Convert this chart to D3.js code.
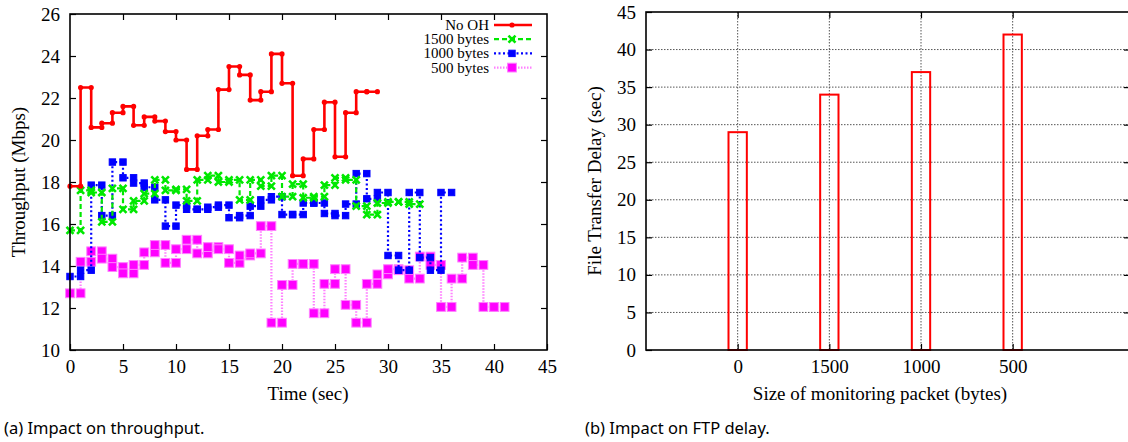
<!DOCTYPE html>
<meta charset="utf-8">
<style>
  body { margin: 0; background: #fff; }
  text { font-family: "Liberation Serif", serif; fill: #000; }
  .cap { font-family: "Noto Sans", sans-serif; font-size: 16.5px; }
</style>
<script src="https://d3js.org/d3.v7.min.js"></script>
<body>
<svg id="fig" width="1128" height="442"></svg>
<script>
// ---- data (a): throughput per second, value holds from t to t+1
var noOH = [17.8, 22.5, 20.6, 20.8, 21.3, 21.6, 20.7, 21.1, 20.9, 20.4,
            20.0, 18.6, 20.2, 20.5, 22.4, 23.5, 23.1, 21.9, 22.3, 24.1,
            22.7, 18.3, 19.1, 20.5, 21.8, 19.2, 21.3, 22.3, 22.3];
var b1500 = [15.7, 17.6, 17.5, 16.1, 17.7, 16.7, 17.1, 17.45, 18.1, 17.6,
             17.65, 17.1, 18.1, 18.3, 18.0, 18.1, 17.15, 18.1, 17.8, 18.3,
             17.3, 17.9, 17.25, 17.3, 17.85, 18.2, 18.1, 16.85, 16.45, 17.0,
             17.05, 17.05, 16.95];
var b1000 = [13.5, 13.8, 17.85, 16.4, 18.95, 18.2, 17.95, 17.75, 17.15, 15.9,
             16.9, 16.7, 16.7, 16.8, 16.9, 16.3, 16.4, 16.85, 17.15, 17.3,
             16.45, 16.45, 17.0, 17.0, 16.5, 16.4, 16.95, 18.4, 17.2, 17.5,
             14.5, 13.8, 17.5, 14.4, 13.8, 17.5];
var b500 = [12.7, 14.2, 14.7, 14.35, 13.95, 13.65, 14.05, 14.65, 15.0, 14.15,
            14.8, 15.25, 14.6, 14.9, 14.8, 14.15, 14.5, 14.6, 15.9, 11.3,
            13.1, 14.1, 14.1, 11.75, 13.15, 13.85, 12.15, 11.3, 13.15, 13.6,
            13.85, 13.8, 13.4, 14.45, 14.05, 12.05, 13.4, 14.4, 14.05, 12.05, 12.05];
var seriesNames = ["No OH", "1500 bytes", "1000 bytes", "500 bytes"];
var xTicksA = d3.range(0, 46, 5);
var yTicksA = d3.range(10, 27, 2);

// ---- data (b): file transfer delay
var packetSizes = ["0", "1500", "1000", "500"];
var delays = [29, 34, 37, 42];
var yTicksB = d3.range(0, 46, 5);

var svg = d3.select("#fig");

function frame(g, x, y) {
  var r = x.range(), t = y.range();
  g.append("rect").attr("x", r[0]).attr("y", t[1])
    .attr("width", r[1] - r[0]).attr("height", t[0] - t[1])
    .attr("fill", "none").attr("stroke", "#000").attr("stroke-width", 1.6);
}

// ================= panel (a)
var xA = d3.scaleLinear().domain([0, 45]).range([70, 547]);
var yA = d3.scaleLinear().domain([10, 26]).range([350, 14]);
var ga = svg.append("g");

// inward ticks on all four sides
ga.append("g").attr("transform", "translate(0,350)")
  .call(d3.axisBottom(xA).tickValues(xTicksA).tickSize(-6).tickPadding(10))
  .call(function(a) { a.select(".domain").remove(); a.selectAll("text").attr("font-size", 19).style("font-family", "Liberation Serif"); });
ga.append("g").attr("transform", "translate(0,14)")
  .call(d3.axisTop(xA).tickValues(xTicksA.slice(1, -1)).tickSize(-6).tickFormat(""))
  .call(function(a) { a.select(".domain").remove(); });
ga.append("g").attr("transform", "translate(70,0)")
  .call(d3.axisLeft(yA).tickValues(yTicksA).tickSize(-6).tickPadding(10))
  .call(function(a) { a.select(".domain").remove(); a.selectAll("text").attr("font-size", 19).style("font-family", "Liberation Serif"); });
ga.append("g").attr("transform", "translate(547,0)")
  .call(d3.axisRight(yA).tickValues(yTicksA.slice(1, -1)).tickSize(-6).tickFormat(""))
  .call(function(a) { a.select(".domain").remove(); });
ga.selectAll(".tick line").attr("stroke", "#000").attr("stroke-width", 1.2);

var styles = [
  { data: noOH,  color: "#ff0000", width: 2.6, dash: null,  mark: "circle", size: 2.6 },
  { data: b1500, color: "#00e800", width: 2.2, dash: "5,3", mark: "cross",  size: 3.5 },
  { data: b1000, color: "#0000ff", width: 2.2, dash: "2,2.5", mark: "square", size: 3.2 },
  { data: b500,  color: "#ff00ff", width: 2.2, dash: "1.5,1.5", mark: "square", size: 4.4, line: "#ff80ff" }
];

var line = d3.line().x(function(d) { return xA(d[0]); }).y(function(d) { return yA(d[1]); })
  .curve(d3.curveStepAfter);

function marker(g, s, px, py) {
  if (s.mark === "circle") {
    g.append("circle").attr("cx", px).attr("cy", py).attr("r", s.size).attr("fill", s.color);
  } else if (s.mark === "square") {
    g.append("rect").attr("x", px - s.size).attr("y", py - s.size)
      .attr("width", 2 * s.size).attr("height", 2 * s.size).attr("fill", s.color)
      .attr("stroke", s.line || s.color).attr("stroke-width", 1);
  } else {
    var k = s.size;
    g.append("path").attr("d", "M" + (px - k) + "," + (py - k) + "L" + (px + k) + "," + (py + k) +
      "M" + (px - k) + "," + (py + k) + "L" + (px + k) + "," + (py - k))
      .attr("stroke", s.color).attr("stroke-width", 2.6);
    g.append("circle").attr("cx", px).attr("cy", py).attr("r", 1.6).attr("fill", s.color);
  }
}

// draw bottom series first so No OH stays on top
styles.slice().reverse().forEach(function(s) {
  var pts = s.data.map(function(v, i) { return [i, v]; });
  pts.push([s.data.length, s.data[s.data.length - 1]]);
  var g = ga.append("g");
  g.append("path").attr("d", line(pts)).attr("fill", "none")
    .attr("stroke", s.line || s.color).attr("stroke-width", s.width)
    .attr("stroke-dasharray", s.dash);
  s.data.forEach(function(v, i) {
    marker(g, s, xA(i), yA(v));
    marker(g, s, xA(i + 1), yA(v));
  });
});

frame(ga, xA, yA);

// legend
var lg = ga.append("g");
styles.forEach(function(s, i) {
  var cy = 25 + i * 14.2;
  lg.append("text").attr("x", 489).attr("y", cy + 5).attr("text-anchor", "end")
    .attr("font-size", 15).text(seriesNames[i]);
  lg.append("line").attr("x1", 494).attr("x2", 532).attr("y1", cy).attr("y2", cy)
    .attr("stroke", s.line || s.color).attr("stroke-width", s.width).attr("stroke-dasharray", s.dash);
  marker(lg, s, 512, cy);
});

ga.append("text").attr("transform", "translate(25,182) rotate(-90)").attr("text-anchor", "middle")
  .attr("font-size", 19).text("Throughput (Mbps)");
ga.append("text").attr("x", 308).attr("y", 400).attr("text-anchor", "middle")
  .attr("font-size", 19).text("Time (sec)");
ga.append("text").attr("class", "cap").attr("x", 4).attr("y", 434).text("(a) Impact on throughput.");

// ================= panel (b)
var xB = d3.scaleLinear().domain([-1, 4.28]).range([646, 1130]);
var yB = d3.scaleLinear().domain([0, 45]).range([350, 12]);
var gb = svg.append("g");
var idx = d3.range(packetSizes.length);

// dotted grid
gb.selectAll(".hg").data(yTicksB.slice(1, -1)).enter().append("line")
  .attr("x1", 646).attr("x2", 1130).attr("y1", function(d) { return yB(d); }).attr("y2", function(d) { return yB(d); })
  .attr("stroke", "#555").attr("stroke-width", 1).attr("stroke-dasharray", "1.5,1.5");
gb.selectAll(".vg").data(idx).enter().append("line")
  .attr("y1", 12).attr("y2", 350).attr("x1", function(d) { return xB(d); }).attr("x2", function(d) { return xB(d); })
  .attr("stroke", "#555").attr("stroke-width", 1).attr("stroke-dasharray", "1.5,1.5");

gb.append("g").attr("transform", "translate(0,350)")
  .call(d3.axisBottom(xB).tickValues(idx).tickSize(-6).tickPadding(10)
    .tickFormat(function(d) { return packetSizes[d]; }))
  .call(function(a) { a.select(".domain").remove(); a.selectAll("text").attr("font-size", 19).style("font-family", "Liberation Serif"); });
gb.append("g").attr("transform", "translate(0,12)")
  .call(d3.axisTop(xB).tickValues(idx).tickSize(-6).tickFormat(""))
  .call(function(a) { a.select(".domain").remove(); });
gb.append("g").attr("transform", "translate(646,0)")
  .call(d3.axisLeft(yB).tickValues(yTicksB).tickSize(-6).tickPadding(10))
  .call(function(a) { a.select(".domain").remove(); a.selectAll("text").attr("font-size", 19).style("font-family", "Liberation Serif"); });
gb.append("g").attr("transform", "translate(1130,0)")
  .call(d3.axisRight(yB).tickValues(yTicksB.slice(1, -1)).tickSize(-6).tickFormat(""))
  .call(function(a) { a.select(".domain").remove(); });
gb.selectAll(".tick line").attr("stroke", "#000").attr("stroke-width", 1.2);

var bw = xB(0.1) - xB(-0.1);
gb.selectAll(".bar").data(delays).enter().append("rect")
  .attr("x", function(d, i) { return xB(i) - bw / 2; })
  .attr("y", function(d) { return yB(d); })
  .attr("width", bw).attr("height", function(d) { return yB(0) - yB(d); })
  .attr("fill", "none").attr("stroke", "#ff0000").attr("stroke-width", 2);

frame(gb, xB, yB);

gb.append("text").attr("transform", "translate(601,181) rotate(-90)").attr("text-anchor", "middle")
  .attr("font-size", 19).text("File Transfer Delay (sec)");
gb.append("text").attr("x", 880).attr("y", 400).attr("text-anchor", "middle")
  .attr("font-size", 19).text("Size of monitoring packet (bytes)");
gb.append("text").attr("class", "cap").attr("x", 585).attr("y", 434).text("(b) Impact on FTP delay.");
</script>
</body>
